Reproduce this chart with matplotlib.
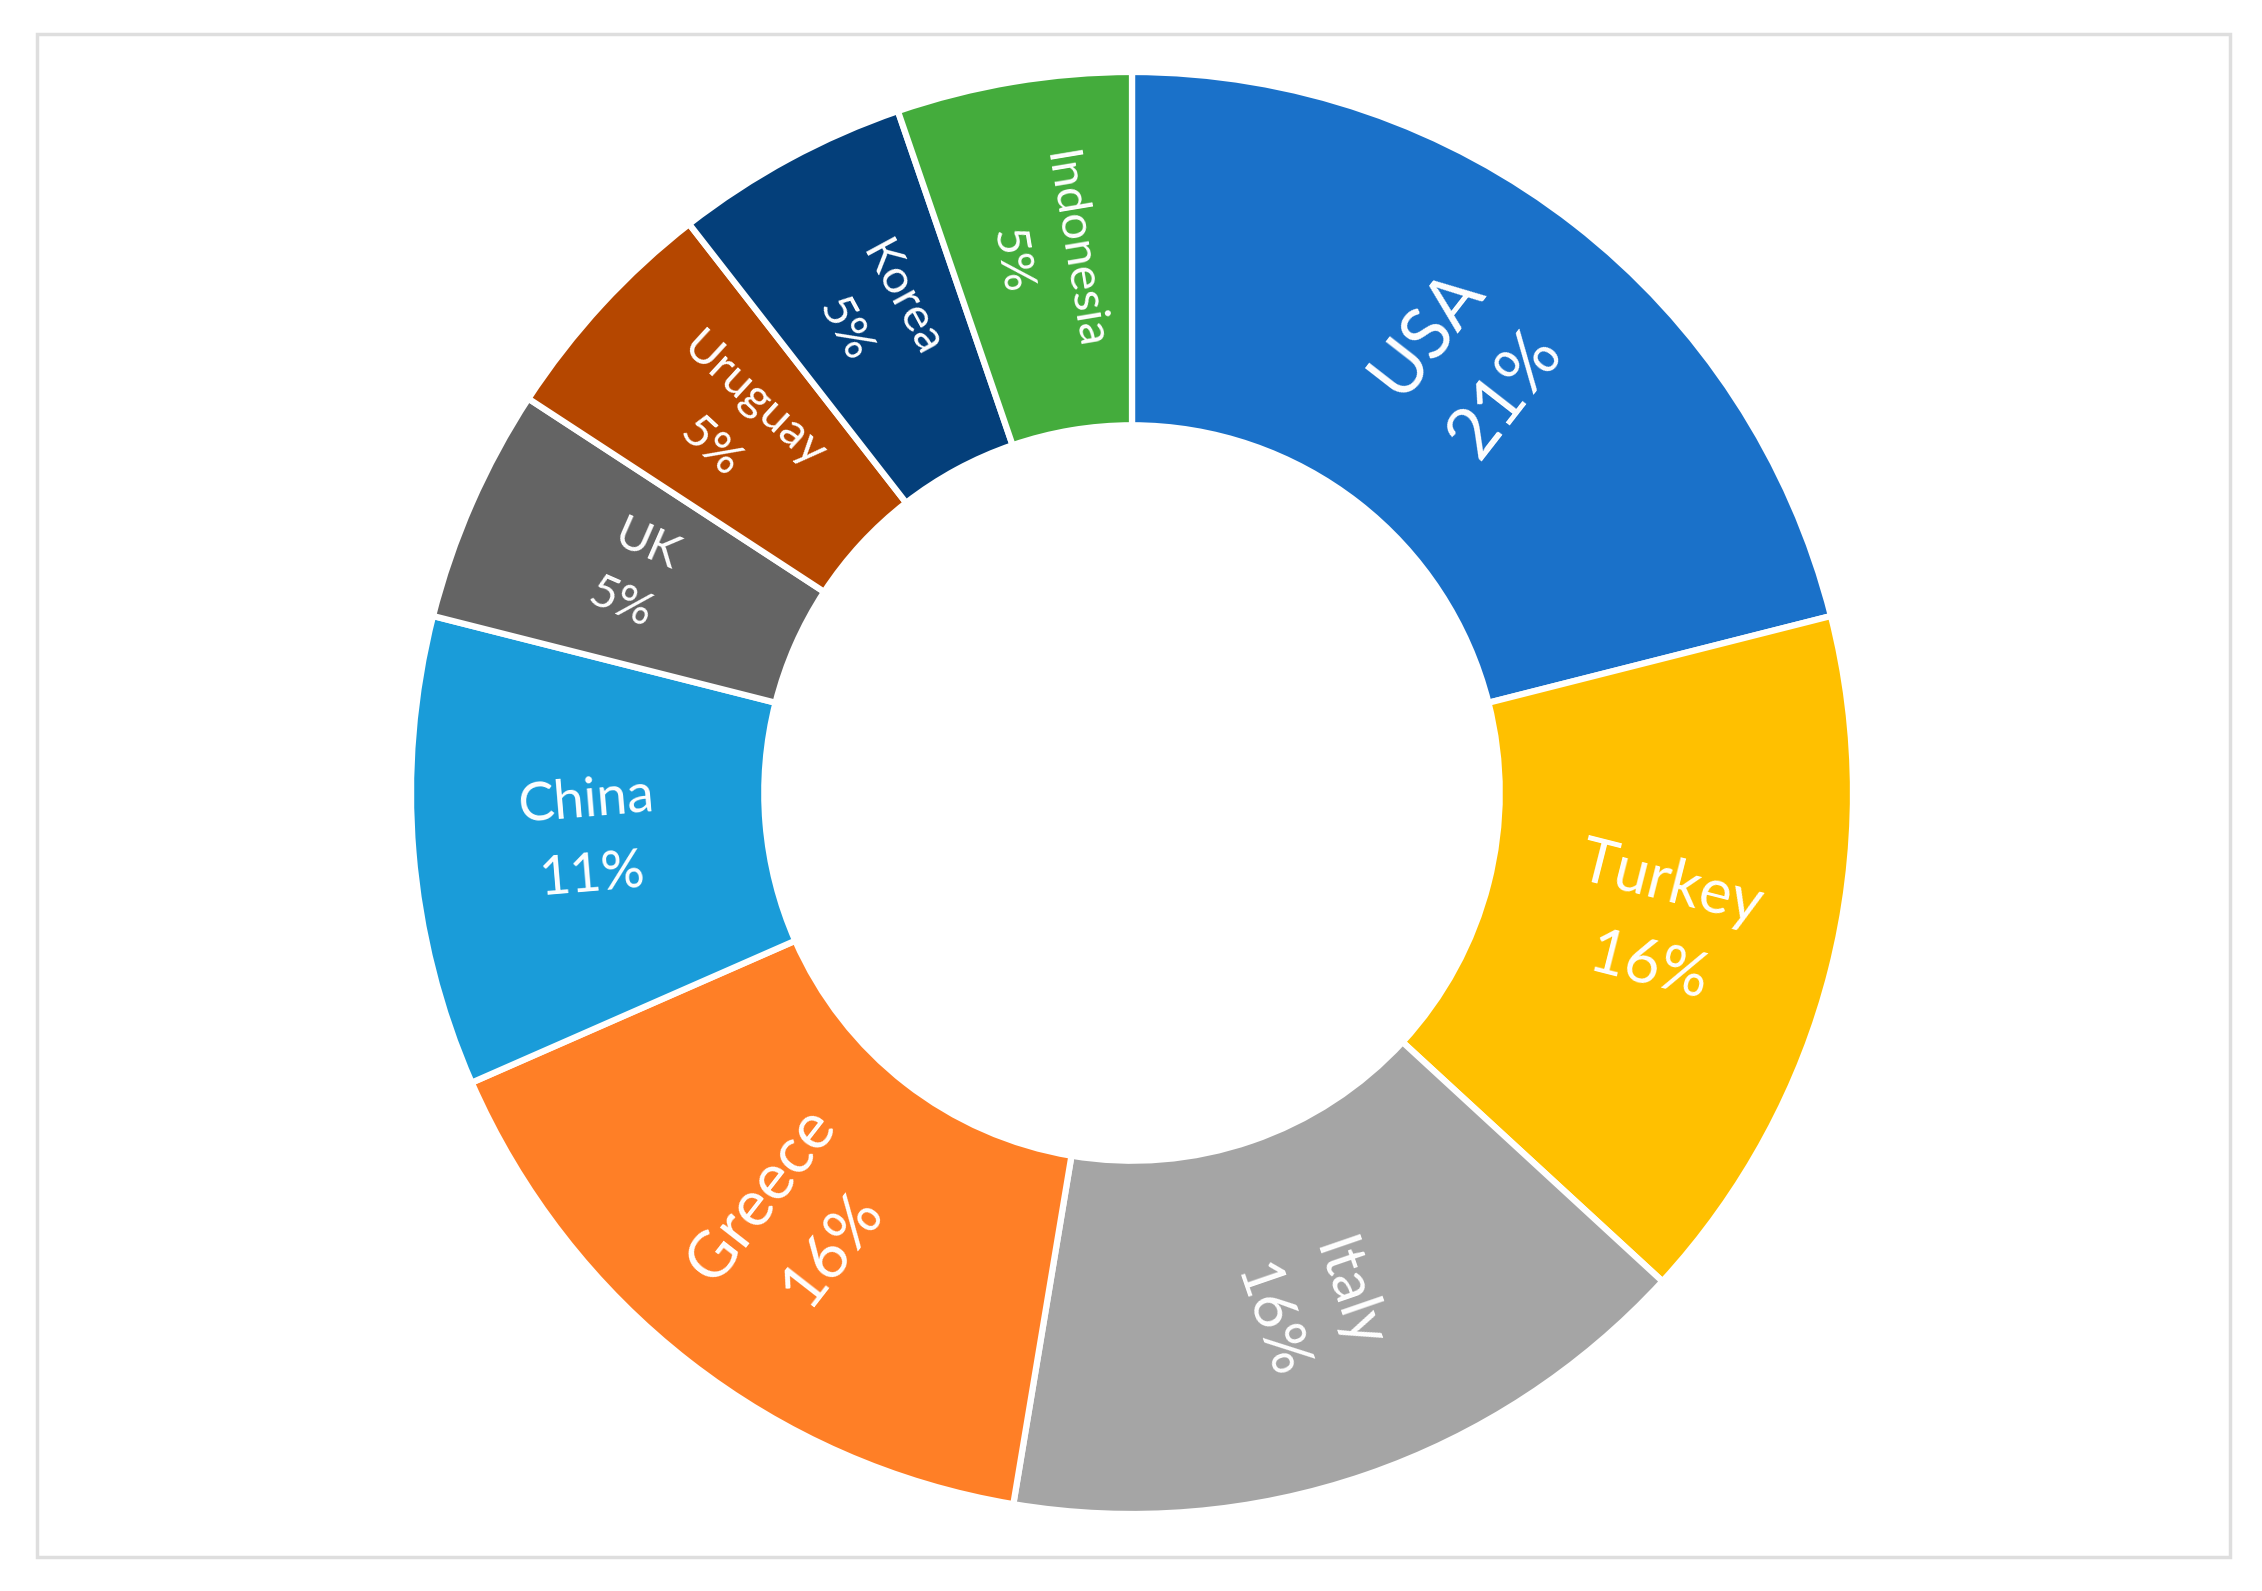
import numpy as np
import matplotlib
matplotlib.use("Agg")
import matplotlib.pyplot as plt
from matplotlib.patches import Rectangle

# data (counts -> shares)
countries = ["USA", "Turkey", "Italy", "Greece", "China", "UK", "Uruguay", "Korea", "Indonesia"]
counts = [4, 3, 3, 3, 2, 1, 1, 1, 1]
colors = ["#1A71C9", "#FFC000", "#A5A5A5", "#FF7F26", "#1A9CD9",
          "#646464", "#B54700", "#043F7A", "#44AC3C"]
label_sizes = [51, 44, 43, 46, 39, 34, 34, 34, 34]

W, H = 2262, 1591
cx, cy, R = 1132, 793, 721   # donut centre / radius in pixels (from top-left)

plt.rcParams['font.family'] = ['Lato', 'DejaVu Sans']
fig = plt.figure(figsize=(W / 100, H / 100), dpi=100)
fig.patch.set_facecolor("white")

# light frame around the chart
fig.add_artist(Rectangle((37 / W, 1 - 1557 / H), (2230 - 37) / W, (1557 - 34) / H,
                         transform=fig.transFigure, fill=False,
                         ec="#DEDEDE", lw=2.5))

ax = fig.add_axes([(cx - R) / W, 1 - (cy + R) / H, 2 * R / W, 2 * R / H])
wedges, _ = ax.pie(counts, colors=colors, startangle=90, counterclock=False,
                   radius=1.0,
                   wedgeprops=dict(width=0.49, edgecolor="white", linewidth=4.5))
ax.set_xlim(-1, 1)
ax.set_ylim(-1, 1)
ax.set_aspect("equal")
ax.axis("off")

total = sum(counts)
r_lab = 0.755
for w, name, c, fs in zip(wedges, countries, counts, label_sizes):
    mid = (w.theta1 + w.theta2) / 2.0
    mid = (mid + 180) % 360 - 180
    rot = mid
    if rot > 90:
        rot -= 180
    elif rot < -90:
        rot += 180
    x = r_lab * np.cos(np.radians(mid))
    y = r_lab * np.sin(np.radians(mid))
    pct = round(c / total * 100)
    ax.text(x, y, f"{name}\n{pct}%", ha="center", va="center",
            rotation=rot, rotation_mode="anchor", color="white",
            fontsize=fs, linespacing=1.65, multialignment="center")

fig.savefig("out.png", dpi=100, facecolor="white")
